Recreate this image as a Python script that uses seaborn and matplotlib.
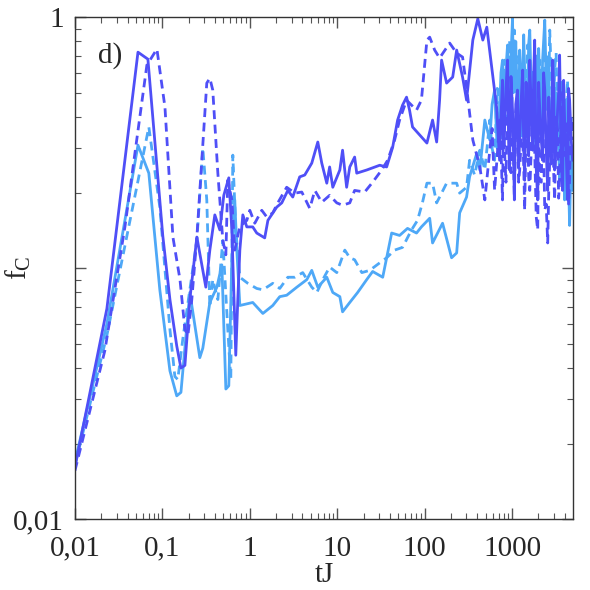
import numpy as np
import pandas as pd
import matplotlib
matplotlib.use("Agg")
import matplotlib.pyplot as plt
import matplotlib.ticker as mticker
import seaborn as sns

# values (tJ, f_C)
ds_t = [0.01, 0.0232, 0.0526, 0.0683, 0.101, 0.122, 0.146, 0.163, 0.181, 0.206, 0.248, 0.314,
        0.349, 0.398, 0.454, 0.504, 0.575, 0.623, 0.691, 0.729, 0.769, 0.832, 0.924, 1.08, 1.2,
        1.48, 1.61, 2.03, 2.32, 2.72, 3.1, 3.72, 4.25, 5.11, 5.99, 6.65, 7.59, 8.18, 8.89, 10.7,
        11.5, 12.8, 13.9, 15.8, 16.7, 21.7, 30.6, 36.7, 43.0, 49.0, 55.8, 62.0, 67.1, 72.6, 87.7,
        106, 123, 137, 148, 156, 178, 209, 232, 271, 301, 355, 405, 462, 513, 584, 664,
        718, 745, 776, 797, 818, 850, 886, 910, 934, 970, 1010, 1035, 1060, 1100, 1150, 1185,
        1220, 1270, 1320, 1355, 1390, 1445, 1500, 1545, 1590, 1655, 1720, 1765, 1810, 1885,
        1960, 2010, 2070, 2150, 2230, 2290, 2360, 2450, 2550, 2620, 2690, 2800, 2910, 2985,
        3060, 3185, 3310, 3400, 3490, 3630, 3780, 3880, 3980, 4140, 4300, 4420, 4540, 4720, 4910]
ds_f = [0.0161, 0.069, 0.725, 0.68, 0.135, 0.075, 0.049, 0.040, 0.041, 0.075, 0.133, 0.084,
        0.118, 0.163, 0.142, 0.195, 0.229, 0.142, 0.045, 0.075, 0.118, 0.163, 0.146, 0.146, 0.138,
        0.132, 0.155, 0.175, 0.182, 0.204, 0.192, 0.231, 0.235, 0.262, 0.318, 0.262, 0.218, 0.253, 0.210, 0.246,
        0.295, 0.210, 0.253, 0.277, 0.239, 0.246, 0.257, 0.253, 0.303, 0.389, 0.446, 0.480, 0.426, 0.365, 0.339,
        0.315, 0.389, 0.318, 0.467, 0.674, 0.546, 0.577, 0.739, 0.577, 0.467, 0.810, 0.985, 0.810, 0.912, 0.632, 0.438,
        0.269, 0.40, 0.561, 0.30, 0.355, 0.52, 0.674, 0.33, 0.246, 0.58, 0.426, 0.30, 0.187, 0.45, 0.512, 0.25,
        0.324, 0.47, 0.615, 0.30, 0.224, 0.55, 0.389, 0.28, 0.674, 0.42, 0.295, 0.60, 0.810, 0.25,
        0.187, 0.55, 0.426, 0.33, 0.269, 0.60, 0.512, 0.30, 0.204, 0.48, 0.355, 0.26, 0.674, 0.52,
        0.246, 0.30, 0.426, 0.50, 0.706, 0.28, 0.204, 0.56, 0.389, 0.30, 0.187, 0.52, 0.467, 0.33, 0.269]

dd_t = [0.01, 0.022, 0.0373, 0.0665, 0.0866, 0.107, 0.132, 0.159, 0.181, 0.196, 0.217, 0.248,
        0.322, 0.349, 0.377, 0.431, 0.491, 0.532, 0.56, 0.623, 0.673, 0.729, 0.769, 0.924, 1.0,
        1.14, 1.37, 1.56, 1.83, 2.09, 2.64, 3.27, 3.93, 4.85, 5.54, 6.65, 8.18, 9.87, 11.5, 13.9,
        15.8, 20.6, 25.4, 32.2, 37.7, 45.3, 51.6, 62.0, 80.6, 91.7, 106, 114, 130, 148, 193, 232,
        271, 301, 326, 355, 427, 487,
        555, 590, 630, 675, 718, 745, 776, 797, 818, 850, 886, 910, 934, 970, 1010, 1035, 1060,
        1100, 1150, 1185, 1220, 1270, 1320, 1355, 1390, 1445, 1500, 1545, 1590, 1655, 1720, 1765,
        1810, 1885, 1960, 2010, 2070, 2150, 2230, 2290, 2360, 2450, 2550, 2620, 2690, 2800, 2910,
        2985, 3060, 3185, 3310, 3400, 3490, 3630, 3780, 3880, 3980, 4140, 4300, 4420, 4540, 4720, 4910]
dd_f = [0.0156, 0.047, 0.146, 0.644, 0.746, 0.438, 0.133, 0.090, 0.057, 0.054, 0.075, 0.133,
        0.546, 0.571, 0.512, 0.239, 0.129, 0.113, 0.224, 0.187, 0.118, 0.135, 0.146, 0.155, 0.170,
        0.151, 0.170, 0.160, 0.166, 0.182, 0.210, 0.199, 0.201, 0.173, 0.204, 0.183, 0.195, 0.182, 0.178, 0.182,
        0.204, 0.201, 0.220, 0.246, 0.269, 0.324, 0.389, 0.467, 0.426, 0.467, 0.810, 0.832, 0.739, 0.687, 0.788, 0.719,
        0.693, 0.526, 0.415, 0.324, 0.253, 0.187,
        0.295, 0.36, 0.204, 0.28, 0.389, 0.30, 0.187, 0.42, 0.295, 0.22, 0.512, 0.40, 0.269, 0.24, 0.355, 0.30, 0.187,
        0.42, 0.467, 0.22, 0.246, 0.33, 0.324, 0.26, 0.170, 0.40, 0.389, 0.23, 0.204, 0.30, 0.512, 0.40,
        0.295, 0.16, 0.142, 0.33, 0.224, 0.22, 0.389, 0.30, 0.170, 0.18, 0.126, 0.20, 0.269, 0.36, 0.467,
        0.24, 0.187, 0.40, 0.355, 0.19, 0.224, 0.40, 0.512, 0.28, 0.295, 0.30, 0.389, 0.18, 0.224, 0.40, 0.324]

ls_t = [0.01, 0.0232, 0.0526, 0.070, 0.0935, 0.122, 0.146, 0.163, 0.206, 0.268, 0.29, 0.349,
        0.42, 0.479, 0.532, 0.575, 0.623, 0.673, 0.71, 0.769, 1.08, 1.41, 1.83, 2.2, 2.64, 3.45,
        4.48, 5.11, 5.99, 7.59, 8.89, 10.7, 11.5, 13.9, 17.1, 21.7, 25.4, 33.1, 41.9, 51.6, 63.6,
        80.6, 91.7, 114, 123, 160, 203, 232, 251, 301, 326, 394,
        427, 487, 555, 590, 630, 675, 718, 745, 776, 797, 818, 850, 886, 910, 934, 970, 1010, 1035,
        1060, 1100, 1150, 1185, 1220, 1270, 1320, 1355, 1390, 1445, 1500, 1545, 1590, 1655, 1720,
        1765, 1810, 1885, 1960, 2010, 2070, 2150, 2230, 2290, 2360, 2450, 2550, 2620, 2690, 2800,
        2910, 2985, 3060, 3185, 3310, 3400, 3490, 3630, 3780, 3880, 3980, 4140, 4300, 4420, 4540, 4720, 4910]
ls_f = [0.0169, 0.060, 0.309, 0.239, 0.082, 0.039, 0.031, 0.032, 0.080, 0.044, 0.048, 0.073,
        0.084, 0.103, 0.033, 0.034, 0.108, 0.187, 0.118, 0.071, 0.073, 0.066, 0.071, 0.077, 0.078, 0.084,
        0.090, 0.098, 0.084, 0.092, 0.080, 0.077, 0.067, 0.073, 0.080, 0.090, 0.097, 0.092, 0.138, 0.135, 0.144,
        0.138, 0.146, 0.158, 0.126, 0.151, 0.110, 0.115, 0.166, 0.192, 0.231, 0.287,
        0.246, 0.389, 0.324, 0.45, 0.512, 0.30, 0.426, 0.60, 0.674, 0.40, 0.355, 0.62, 0.774, 0.42, 0.467, 0.70, 0.99, 0.50,
        0.561, 0.80, 0.426, 0.40, 0.739, 0.60, 0.355, 0.85, 0.615, 0.45, 0.467, 0.78, 0.888, 0.50, 0.389, 0.60, 0.615,
        0.45, 0.324, 0.75, 0.512, 0.40, 0.674, 0.80, 0.973, 0.55, 0.426, 0.70, 0.295, 0.35, 0.561, 0.65,
        0.355, 0.50, 0.467, 0.30, 0.224, 0.55, 0.389, 0.30, 0.187, 0.45, 0.295, 0.22, 0.148, 0.30, 0.204]

ld_t = [0.01, 0.0232, 0.070, 0.0935, 0.122, 0.139, 0.150, 0.171, 0.248, 0.29, 0.322, 0.349,
        0.377, 0.431, 0.491, 0.56, 0.606, 0.639, 0.691, 0.769, 0.949, 1.2, 1.41, 1.83, 2.2, 2.72,
        3.27, 4.03, 5.11, 5.84, 6.83, 8.18, 9.87, 12.2, 13.9, 15.8, 19.1, 23.5, 30.6, 36.7, 45.3,
        55.8, 70.7, 82.7, 94.1, 106, 123, 137, 178, 232, 251, 301, 326,
        372, 427, 487, 555, 590, 630, 675, 718, 745, 776, 797, 818, 850, 886, 910, 934, 970, 1010,
        1035, 1060, 1100, 1150, 1185, 1220, 1270, 1320, 1355, 1390, 1445, 1500, 1545, 1590, 1655,
        1720, 1765, 1810, 1885, 1960, 2010, 2070, 2150, 2230, 2290, 2360, 2450, 2550, 2620, 2690,
        2800, 2910, 2985, 3060, 3185, 3310, 3400, 3490, 3630, 3780, 3880, 3980, 4140, 4300, 4420,
        4540, 4720, 4910]
ld_f = [0.0164, 0.054, 0.365, 0.175, 0.057, 0.037, 0.036, 0.052, 0.129, 0.301, 0.187, 0.070,
        0.090, 0.075, 0.129, 0.057, 0.036, 0.282, 0.142, 0.092, 0.087, 0.083, 0.082, 0.087, 0.083, 0.092,
        0.092, 0.096, 0.084, 0.080, 0.090, 0.101, 0.096, 0.118, 0.110, 0.108, 0.096, 0.098, 0.105, 0.110, 0.118,
        0.121, 0.142, 0.155, 0.182, 0.218, 0.218, 0.182, 0.218, 0.218, 0.199, 0.210, 0.269,
        0.235, 0.295, 0.246, 0.389, 0.30, 0.269, 0.52, 0.467, 0.35, 0.324, 0.50, 0.674, 0.45, 0.389, 0.62, 0.810,
        0.40, 0.512, 0.70, 0.888, 0.55, 0.426, 0.72, 0.674, 0.42, 0.324, 0.50, 0.561, 0.38, 0.774, 0.60,
        0.389, 0.48, 0.615, 0.40, 0.295, 0.70, 0.512, 0.45, 0.674, 0.55, 0.355, 0.40, 0.739, 0.62, 0.467,
        0.50, 0.888, 0.60, 0.389, 0.45, 0.615, 0.72, 0.324, 0.38, 0.467, 0.50, 0.246, 0.30, 0.389, 0.45,
        0.561, 0.28, 0.204, 0.40, 0.355]

x_ticks = [0.01, 0.1, 1, 10, 100, 1000]
x_labels = ["0,01", "0,1", "1", "10", "100", "1000"]
y_ticks = [0.01, 0.1, 1]
y_labels = ["0,01", "", "1"]

dark = "#4f4ff7"
light = "#4ea8f7"

sns.set_style("ticks")
plt.rcParams["font.family"] = ["Liberation Serif", "DejaVu Serif"]
plt.rcParams["mathtext.default"] = "regular"

fig = plt.figure(figsize=(5.9, 5.9), dpi=100)
ax = fig.add_axes([0.127, 0.120, 0.844, 0.851])

series = [
    (ls_t, ls_f, light, "-"),
    (ld_t, ld_f, light, "--"),
    (ds_t, ds_f, dark, "-"),
    (dd_t, dd_f, dark, "--"),
]
for t, f, c, ls in series:
    df = pd.DataFrame({"tJ": t, "fC": f})
    sns.lineplot(data=df, x="tJ", y="fC", ax=ax, color=c, sort=False,
                 estimator=None, linewidth=2.0, linestyle=ls)

for line in ax.get_lines():
    if line.get_linestyle() == "--":
        line.set_dashes((3.2, 2.0))

ax.set_xscale("log")
ax.set_yscale("log")
ax.set_xlim(0.01, 4950)
ax.set_ylim(0.01, 1)

ax.set_xticks(x_ticks)
ax.set_xticklabels(x_labels)
ax.set_yticks(y_ticks)
ax.set_yticklabels(y_labels)
ax.xaxis.set_minor_locator(mticker.LogLocator(base=10, subs=np.arange(2, 10)))
ax.yaxis.set_minor_locator(mticker.LogLocator(base=10, subs=np.arange(2, 10)))
ax.xaxis.set_minor_formatter(mticker.NullFormatter())
ax.yaxis.set_minor_formatter(mticker.NullFormatter())

ax.tick_params(which="both", direction="in", top=True, right=True, color="#555555",
               labelsize=21)
ax.tick_params(axis="x", which="major", pad=12)
ax.tick_params(axis="y", which="major", pad=8)
ax.tick_params(which="major", length=8, width=1)
ax.tick_params(which="minor", length=4, width=0.8)
for sp in ax.spines.values():
    sp.set_color("#333333")
    sp.set_linewidth(1.0)

ax.set_xlabel("tJ", fontsize=21, labelpad=0)
ax.set_ylabel(r"f$_{C}$", fontsize=21)
ax.yaxis.set_label_coords(-0.085, 0.5)
ax.text(0.046, 0.924, "d)", transform=ax.transAxes, fontsize=21, va="center", ha="left")

fig.savefig("out.png", dpi=100)
